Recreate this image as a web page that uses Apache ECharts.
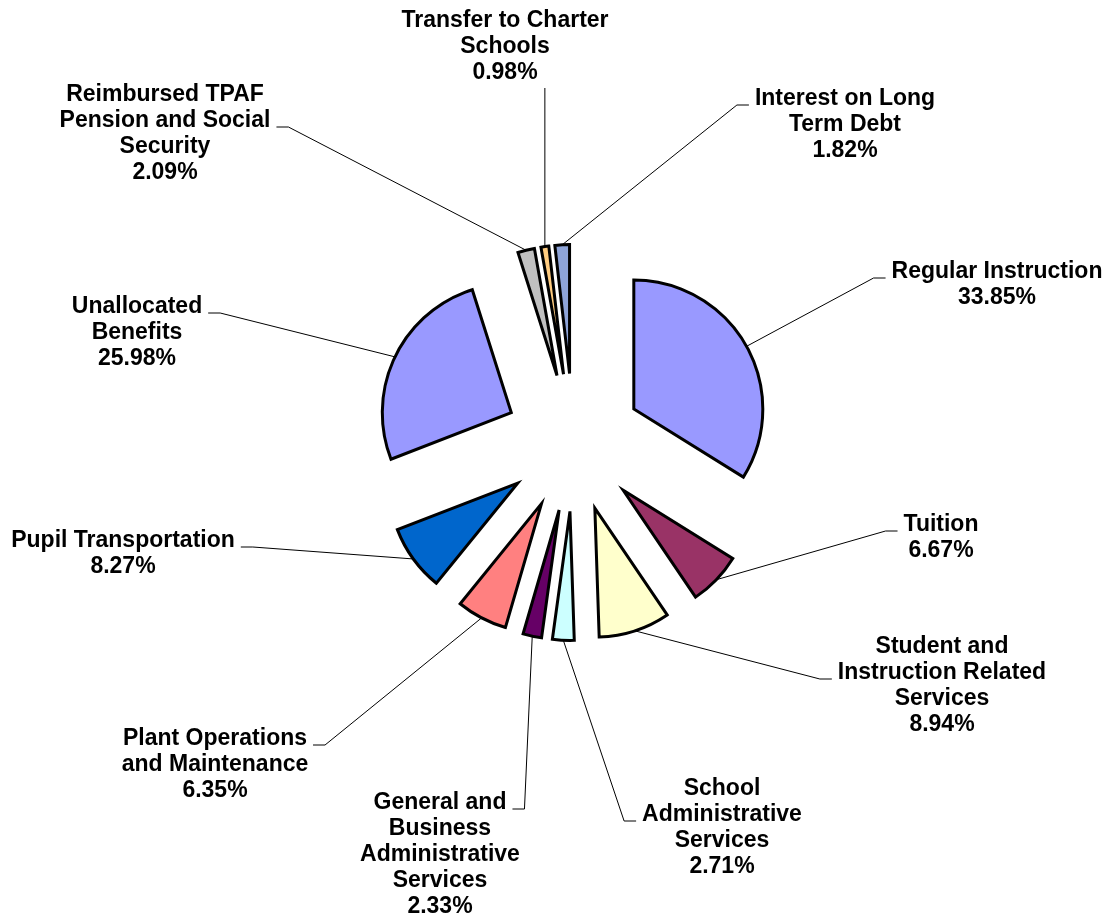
<!DOCTYPE html>
<html>
<head>
<meta charset="utf-8">
<style>
  html, body { margin: 0; padding: 0; background: #fff; }
  #main { width: 1113px; height: 920px; }
</style>
</head>
<body>
<div id="main"></div>
<script src="https://cdn.jsdelivr.net/npm/echarts@6/dist/echarts.min.js"></script>
<script>
// slices, clockwise from 12 o'clock
var categories = [
  'Regular Instruction',
  'Tuition',
  'Student and\nInstruction Related\nServices',
  'School\nAdministrative\nServices',
  'General and\nBusiness\nAdministrative\nServices',
  'Plant Operations\nand Maintenance',
  'Pupil Transportation',
  'Unallocated\nBenefits',
  'Reimbursed TPAF\nPension and Social\nSecurity',
  'Transfer to Charter\nSchools',
  'Interest on Long\nTerm Debt'
];
var shares = [33.85, 6.67, 8.94, 2.71, 2.33, 6.35, 8.27, 25.98, 2.09, 0.98, 1.82];
var colors = ['#9999ff', '#993366', '#ffffcc', '#ccffff', '#660066', '#ff8080',
  '#0066cc', '#9999ff', '#c0c0c0', '#ffcc80', '#8ea4d8'];

// label placement: centre x, top y, side the leader comes from, text line it hooks onto
var labelSpots = [
  [997, 259, 'L', 0],
  [941, 512, 'L', 0],
  [942, 634, 'L', 1],
  [722, 776, 'L', 1],
  [440, 790, 'R', 0],
  [215, 726, 'R', 0],
  [123, 528, 'R', 0],
  [137, 294, 'R', 0],
  [165, 82, 'R', 1],
  [505, 8, 'B', 0],
  [845, 86, 'L', 0]
];

var FONT_FAMILY = 'Arial, "Liberation Sans", sans-serif';
var FONT_SIZE = 23;
var LH = 26;
var CENTER = [573.5, 442.5];
var RADIUS = 129;
var EXPLODE = 69;

var ctx = document.createElement('canvas').getContext('2d');
ctx.font = 'bold ' + FONT_SIZE + 'px ' + FONT_FAMILY;

var total = shares.reduce(function (a, b) { return a + b; }, 0);
var mids = [];
var acc = 0;
shares.forEach(function (v) {
  mids.push(-Math.PI / 2 + (acc + v / 2) / total * Math.PI * 2);
  acc += v;
});

function labelText(i) {
  return categories[i] + '\n' + shares[i].toFixed(2) + '%';
}

// every slice is pulled out, so each one gets its own pie with a shifted centre
var series = shares.map(function (v, k) {
  var a = mids[k];
  var c = [CENTER[0] + Math.cos(a) * EXPLODE, CENTER[1] + Math.sin(a) * EXPLODE];
  return {
    type: 'pie',
    center: c,
    radius: RADIUS,
    startAngle: 90,
    clockwise: true,
    silent: true,
    avoidLabelOverlap: false,
    label: {
      position: 'outside',
      color: '#000',
      fontFamily: FONT_FAMILY,
      fontSize: FONT_SIZE,
      fontWeight: 'bold',
      lineHeight: LH,
      align: 'center',
      formatter: function (p) { return labelText(p.dataIndex); }
    },
    labelLine: {
      smooth: false,
      lineStyle: { color: '#000', width: 1 }
    },
    labelLayout: function (p) {
      var i = p.dataIndex;
      if (i !== k) return {};
      var s = labelSpots[i];
      var start = [c[0] + Math.cos(a) * RADIUS, c[1] + Math.sin(a) * RADIUS];
      var lines = labelText(i).split('\n');
      var pts;
      if (s[2] === 'B') {
        var by = s[1] + LH * lines.length + 2;
        pts = [start, [start[0], by]];
      } else {
        var w = ctx.measureText(lines[s[3]]).width;
        var dir = s[2] === 'L' ? -1 : 1;
        var ex = s[0] + dir * (w / 2 + 6);
        var ey = s[1] + LH * (s[3] + 0.5) + 6;
        pts = [start, [ex + dir * 12, ey], [ex, ey]];
      }
      return {
        x: s[0],
        y: s[1],
        align: 'center',
        verticalAlign: 'top',
        labelLinePoints: pts
      };
    },
    data: categories.map(function (name, i) {
      var own = i === k;
      return {
        name: name,
        value: shares[i],
        itemStyle: own
          ? { color: colors[i], borderColor: '#000', borderWidth: 3, borderJoin: 'miter' }
          : { color: 'rgba(0,0,0,0)', borderWidth: 0 },
        label: { show: own },
        labelLine: { show: own }
      };
    })
  };
});

var myChart = echarts.init(document.getElementById('main'));
myChart.setOption({
  animation: false,
  backgroundColor: '#fff',
  series: series
});
</script>
</body>
</html>
